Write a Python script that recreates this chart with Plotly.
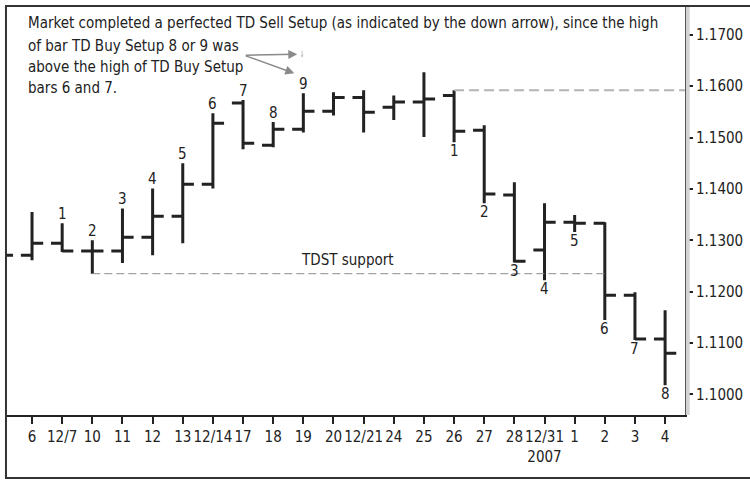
import plotly.graph_objects as go

# bar positions: -1 is the partly hidden bar at the left edge
positions = list(range(-1, 22))
tick_labels = ["6", "12/7", "10", "11", "12", "13", "12/14", "17", "18", "19", "20",
               "12/21", "24", "25", "26", "27", "28", "12/31<br>2007", "1", "2", "3", "4"]

opens = [1.1275, 1.1271, 1.1294, 1.1279, 1.1279, 1.1306, 1.1347, 1.1409, 1.1567, 1.1485,
         1.1516, 1.1551, 1.1578, 1.1559, 1.1569, 1.1582, 1.1514, 1.1388, 1.1281, 1.1335,
         1.1333, 1.1193, 1.1108]
highs = [1.1290, 1.1355, 1.1333, 1.1300, 1.1362, 1.1401, 1.1450, 1.1547, 1.1573, 1.1530,
         1.1586, 1.1588, 1.1592, 1.1582, 1.1627, 1.1592, 1.1524, 1.1413, 1.1372, 1.1349,
         1.1335, 1.1199, 1.1164]
lows = [1.1260, 1.1261, 1.1277, 1.1235, 1.1256, 1.1271, 1.1294, 1.1401, 1.1477, 1.1481,
        1.1510, 1.1543, 1.1510, 1.1534, 1.1501, 1.1491, 1.1372, 1.1257, 1.1222, 1.1316,
        1.1145, 1.1106, 1.1018]
closes = [1.1271, 1.1294, 1.1279, 1.1279, 1.1306, 1.1347, 1.1409, 1.1528, 1.1489, 1.1516,
          1.1551, 1.1578, 1.1549, 1.1569, 1.1575, 1.1512, 1.1390, 1.1259, 1.1335, 1.1333,
          1.1193, 1.1108, 1.1080]

price_ticks = [1.10, 1.11, 1.12, 1.13, 1.14, 1.15, 1.16, 1.17]
price_labels = ["1.1000", "1.1100", "1.1200", "1.1300", "1.1400", "1.1500", "1.1600", "1.1700"]

# setup counts: above the rising bars, below the falling bars
up_count_bars = [1, 2, 3, 4, 5, 6, 7, 8, 9]
up_count_text = ["1", "2", "3", "4", "5", "6", "7", "8", "9"]
down_count_bars = [14, 15, 16, 17, 18, 19, 20, 21]
down_count_text = ["1", "2", "3", "4", "5", "6", "7", "8"]

note_lines = [
    "Market completed a perfected TD Sell Setup (as indicated by the down arrow), since the high",
    "of bar TD Buy Setup 8 or 9 was",
    "above the high of TD Buy Setup",
    "bars 6 and 7.",
]

FONT = "Liberation Sans Narrow, DejaVu Sans Condensed, Liberation Sans, Arial"
INK = "#222222"


def ix(pos):
    return positions.index(pos)


bar_style = dict(line=dict(color=INK, width=3))
fig = go.Figure(go.Ohlc(
    x=positions, open=opens, high=highs, low=lows, close=closes,
    increasing=bar_style, decreasing=bar_style, tickwidth=0.37,
    showlegend=False, hoverinfo="skip",
))

annotations = []
for b, t in zip(up_count_bars, up_count_text):
    annotations.append(dict(x=b, y=highs[ix(b)], text=t, showarrow=False,
                            yanchor="bottom", yshift=-2))
for b, t in zip(down_count_bars, down_count_text):
    annotations.append(dict(x=b, y=lows[ix(b)], text=t, showarrow=False,
                            yanchor="top", yshift=2))

# note text, one annotation per line (pixel rows of the reference)
for line, ypx in zip(note_lines, [23, 46, 67, 88]):
    annotations.append(dict(xref="paper", yref="paper", x=(26 - 7) / 680,
                            y=(415 - ypx) / 408, text=line, showarrow=False,
                            xanchor="left", yanchor="middle", align="left"))

annotations.append(dict(x=10.45, y=1.1261, text="TDST support", showarrow=False,
                        yanchor="middle"))

# arrows from the note
for hx, hy in [(8.80, 1.1662), (8.70, 1.1625)]:
    annotations.append(dict(x=hx, y=hy, ax=7.04, ay=1.1660, axref="x", ayref="y",
                            text="", showarrow=True, arrowhead=2, arrowsize=1.2,
                            arrowwidth=1.5, arrowcolor="#8a8a8a"))
# small down arrow above bar 9
annotations.append(dict(x=8.96, y=1.1655, ax=8.96, ay=1.1672, axref="x", ayref="y",
                        text="", showarrow=True, arrowhead=2, arrowsize=0.6,
                        arrowwidth=1, arrowcolor="#c8c8c8"))

shapes = [
    # TDST support from low of bar 2 to bar 19
    dict(type="line", xref="x", yref="y", x0=2, x1=19, y0=lows[ix(2)], y1=lows[ix(2)],
         line=dict(color="#8c8c8c", width=1, dash="8px,4px")),
    # resistance from high of bar 14 to right edge
    dict(type="line", xref="x", yref="y", x0=14, x1=21.66, y0=highs[ix(14)], y1=highs[ix(14)],
         line=dict(color="#b4b4b4", width=2, dash="10px,5px")),
    # outer frame
    dict(type="rect", xref="paper", yref="paper", x0=-0.0015, x1=1.2, y0=-0.1544, y1=1.0025,
         line=dict(color="#333333", width=2)),
    # light shadow on the right axis
    dict(type="line", xref="paper", yref="paper", x0=1.004, x1=1.004, y0=0, y1=1,
         line=dict(color="#d4d4d4", width=4)),
]

fig.update_layout(
    width=750, height=480,
    margin=dict(l=7, r=63, t=7, b=65),
    paper_bgcolor="white", plot_bgcolor="white",
    font=dict(family=FONT, size=15, color=INK),
    annotations=annotations, shapes=shapes,
    xaxis=dict(range=[-0.83, 21.66], tickvals=list(range(22)), ticktext=tick_labels,
               ticks="outside", ticklen=7, tickwidth=1.5, tickcolor=INK,
               showline=True, linecolor=INK, linewidth=2, showgrid=False,
               zeroline=False, rangeslider=dict(visible=False)),
    yaxis=dict(side="right", range=[1.0960, 1.1754],
               tickvals=price_ticks, ticktext=price_labels,
               ticks="outside", ticklen=6, tickwidth=1.5,
               tickcolor=INK, showline=True, linecolor=INK, linewidth=2,
               showgrid=False, zeroline=False),
)

fig.write_html("out.html", config={"displayModeBar": False},
               post_script="document.body.style.margin='0';")
